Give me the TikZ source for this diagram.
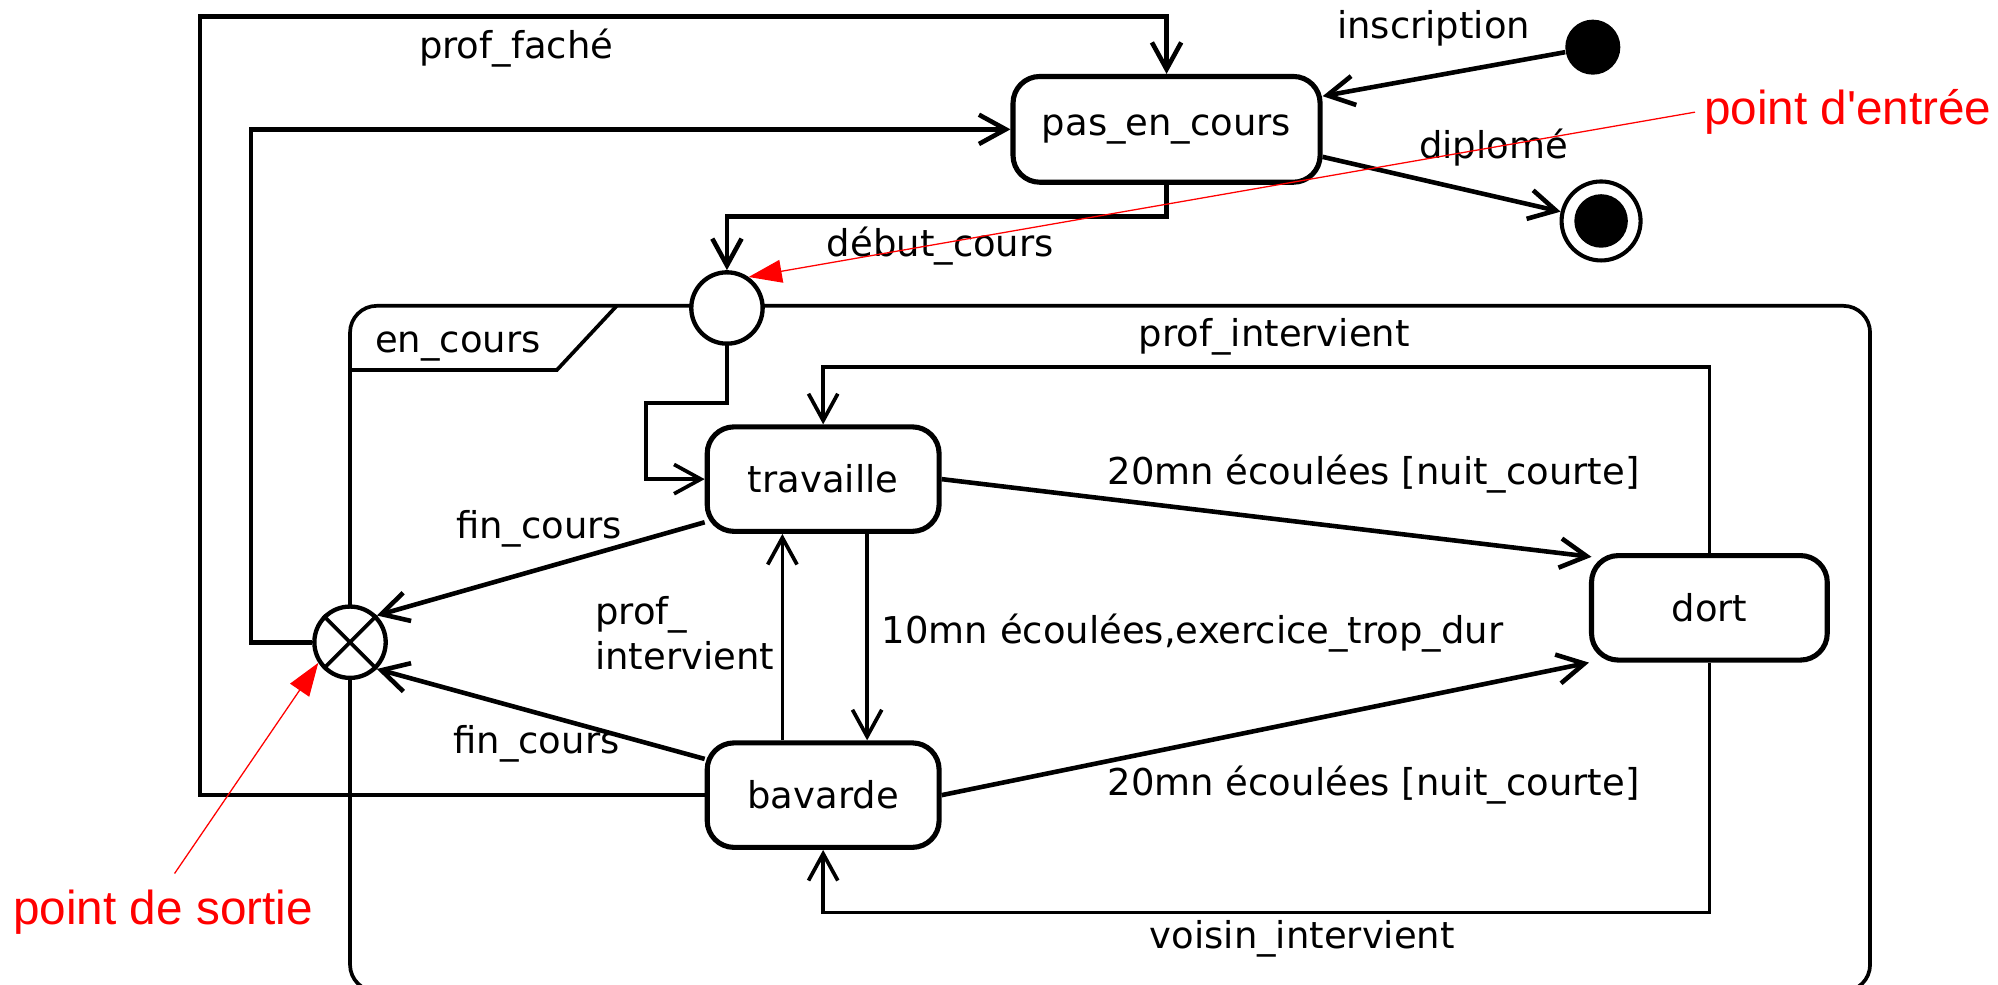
\documentclass[tikz,border=0pt]{standalone}
\usepackage{fontspec}
\setmainfont{DejaVu Sans}
\newfontfamily\notefont{Liberation Sans}
\usetikzlibrary{arrows.meta,calc}

\begin{document}
\begin{tikzpicture}[x=0.5pt,y=-0.5pt,
  font=\fontsize{14.5}{17.5}\selectfont,
  stateb/.style={draw, line width=2pt, rounded corners=10.5pt, fill=white,
    minimum width=91pt, minimum height=41pt, inner sep=0pt},
  pseudo/.style={circle, draw, line width=1.7pt, fill=white, minimum size=28pt, inner sep=0pt},
  trans/.style={line width=1.8pt, -{Straight Barb[length=10.5pt,width=11.5pt]}},
  transthin/.style={line width=1.45pt, -{Straight Barb[length=10.5pt,width=11.5pt]}},
  frame/.style={line width=1.45pt},
  note/.style={text=red, font=\notefont\fontsize{18.7}{22}\selectfont},
  noteline/.style={draw=red, line width=0.5pt, -{Triangle[length=13pt,width=9pt,fill=red]}}
]
\clip (0,0) rectangle (1568,773);
\fill[white] (0,0) rectangle (1568,773);

% composite state en_cours with its name tab
\draw[frame, rounded corners=10.5pt] (274.7,778) -- (274.7,240) -- (1467.6,240) -- (1467.6,778) -- cycle;
\draw[frame] (274.7,290.4) -- (437,290.4) -- (484,240);
\node[anchor=base west, inner sep=0pt] (tabLbl) at (294,277) {en\_cours};

% states
\node[stateb, minimum width=120.5pt, minimum height=41.5pt] (pas) at (915.5,101.5) {pas\_en\_cours};
\node[stateb] (trav) at (646,376) {travaille};
\node[stateb] (bav) at (646,624) {bavarde};
\node[stateb, minimum width=92.5pt] (dort) at (1341.5,477) {dort};

% initial and final states
\node[circle, fill, minimum size=21.6pt, inner sep=0pt] (init) at (1250,37) {};
\node[circle, draw, line width=1.6pt, minimum size=31pt, inner sep=0pt] (final) at (1256.5,173.4) {};
\node[circle, fill, minimum size=21pt, inner sep=0pt] (finalDot) at (final) {};

% entry and exit points
\node[pseudo] (entry) at (570.5,241.7) {};
\node[pseudo] (exit) at (274.7,504) {};
\draw[line width=1.45pt] (exit.45) -- (exit.225) (exit.135) -- (exit.-45);

% bends
\coordinate (jog1) at (570.5,170);
\coordinate (jog2) at (507,316);
\coordinate (jog3) at (646,288);
\coordinate (jog4) at (646,716);

% transitions outside the composite
\draw[trans] (bav.west) -| (157,13) -| (pas.north);
\draw[trans] (exit.west) -- (197,504) |- (pas.west);
\draw[trans] (pas.south) |- (jog1) -- (entry.north);
\draw[trans] (init) -- (pas.12);
\draw[trans] (pas.-10) -- (final);

% transitions inside the composite
\draw[transthin] (entry.south) |- (jog2) |- (trav.west);
\draw[trans] (trav.200) -- (exit.45);
\draw[trans] (bav.163) -- (exit.-45);
\draw[transthin] ($(bav.north)+(-32,0)$) -- ($(trav.south)+(-32,0)$);
\draw[transthin] ($(trav.south)+(34.5,0)$) -- ($(bav.north)+(34.5,0)$);
\draw[trans] (trav.east) -- ($(dort.north west)+(2,3)$);
\draw[trans] (bav.east) -- (dort.south west);
\draw[transthin] (dort.north) |- (jog3) -- (trav.north);
\draw[transthin] (dort.south) |- (jog4) -- (bav.south);

% transition labels
\node (lFache) at (405,38) {prof\_faché};
\node (lInscr) at (1125,22) {inscription};
\node (lDipl) at (1172,116) {diplomé};
\node (lDebut) at (738,193) {début\_cours};
\node (lProfI) at (1000,264) {prof\_intervient};
\node (lVoisin) at (1022,737) {voisin\_intervient};
\node (l20a) at (1078,372) {20mn écoulées [nuit\_courte]};
\node (l20b) at (1078,616) {20mn écoulées [nuit\_courte]};
\node (l10) at (936,497) {10mn écoulées,exercice\_trop\_dur};
\node (lFin1) at (423,415) {fin\_cours};
\node (lFin2) at (421,584) {fin\_cours};
\node[align=left, anchor=west] (lProfI2) at (460,497) {prof\_\\intervient};

% annotations
\node[note] (entreeLbl) at (1450,88) {point d\textquotesingle entrée};
\node[note] (sortieLbl) at (128,716) {point de sortie};
\draw[noteline] (entreeLbl.west) -- (entry.55);
\draw[noteline] ([xshift=4.5pt,yshift=3pt]sortieLbl.north) -- (exit.213);
\end{tikzpicture}
\end{document}
